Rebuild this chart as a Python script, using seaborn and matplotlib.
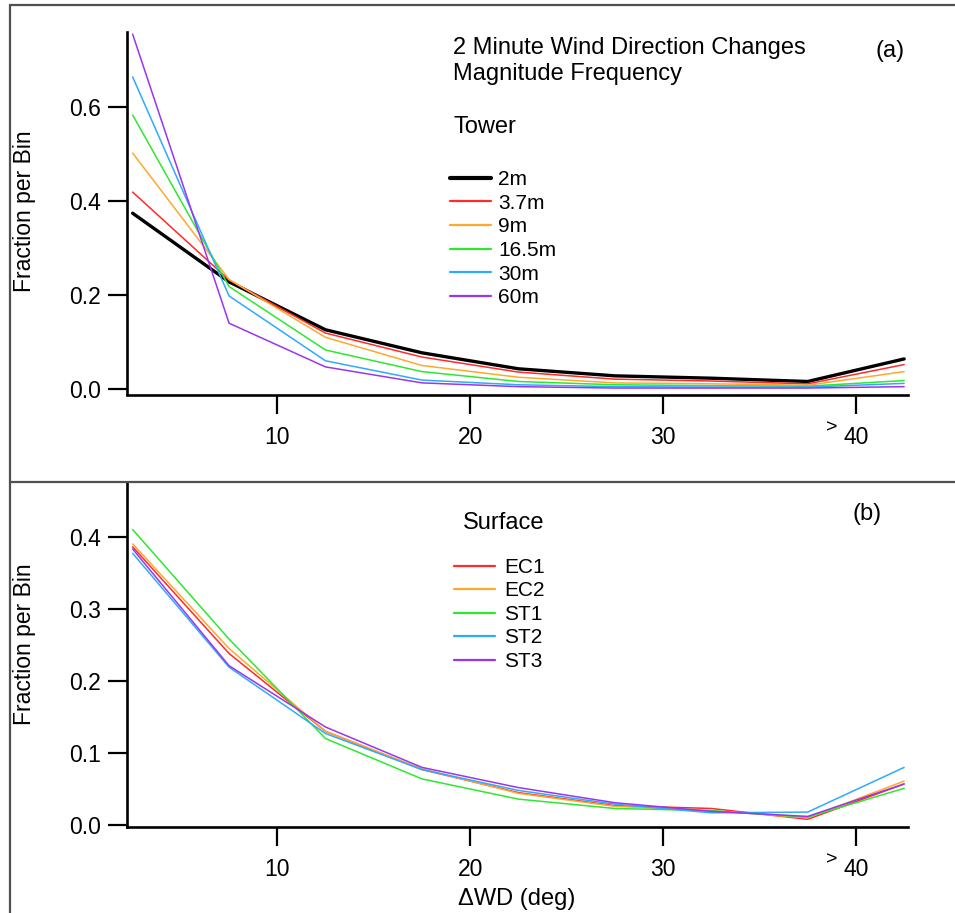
import numpy as np
import pandas as pd
import matplotlib
matplotlib.use("Agg")
import matplotlib.pyplot as plt
import seaborn as sns
from matplotlib.lines import Line2D

# ---------------- data ----------------
x_deg = [2.5, 7.5, 12.5, 17.5, 22.5, 27.5, 32.5, 37.5, 42.5]

tower_labels = ["2m", "3.7m", "9m", "16.5m", "30m", "60m"]
tower_2m = [0.374, 0.228, 0.126, 0.077, 0.043, 0.028, 0.023, 0.016, 0.064]
tower_3_7m = [0.419, 0.232, 0.119, 0.068, 0.036, 0.021, 0.017, 0.011, 0.052]
tower_9m = [0.502, 0.233, 0.110, 0.050, 0.025, 0.013, 0.011, 0.008, 0.037]
tower_16_5m = [0.583, 0.218, 0.083, 0.037, 0.016, 0.009, 0.007, 0.006, 0.018]
tower_30m = [0.664, 0.198, 0.060, 0.019, 0.009, 0.005, 0.004, 0.004, 0.012]
tower_60m = [0.755, 0.140, 0.047, 0.013, 0.005, 0.002, 0.002, 0.002, 0.005]

surface_labels = ["EC1", "EC2", "ST1", "ST2", "ST3"]
surf_ec1 = [0.386, 0.238, 0.130, 0.077, 0.045, 0.027, 0.023, 0.008, 0.057]
surf_ec2 = [0.390, 0.245, 0.130, 0.078, 0.044, 0.026, 0.020, 0.010, 0.061]
surf_st1 = [0.410, 0.258, 0.120, 0.064, 0.036, 0.023, 0.020, 0.011, 0.051]
surf_st2 = [0.377, 0.219, 0.127, 0.077, 0.048, 0.029, 0.017, 0.018, 0.080]
surf_st3 = [0.383, 0.221, 0.136, 0.080, 0.052, 0.031, 0.019, 0.012, 0.057]

x_ticks = [10, 20, 30, 40]
y_ticks_top = [0.0, 0.2, 0.4, 0.6]
y_ticks_bot = [0.0, 0.1, 0.2, 0.3, 0.4]

tower_series = [tower_2m, tower_3_7m, tower_9m, tower_16_5m, tower_30m, tower_60m]
surface_series = [surf_ec1, surf_ec2, surf_st1, surf_st2, surf_st3]

df_tower = pd.DataFrame({
    "x": x_deg * len(tower_labels),
    "y": sum(tower_series, []),
    "Tower": sum([[lab] * len(x_deg) for lab in tower_labels], []),
})
df_surf = pd.DataFrame({
    "x": x_deg * len(surface_labels),
    "y": sum(surface_series, []),
    "Surface": sum([[lab] * len(x_deg) for lab in surface_labels], []),
})

RED, ORANGE, GREEN, BLUE, PURPLE = "#ff2a2a", "#ffa82e", "#2ee82e", "#2eaaff", "#9a35ee"
tower_pal = dict(zip(tower_labels, ["black", RED, ORANGE, GREEN, BLUE, PURPLE]))
tower_lw = dict(zip(tower_labels, [2.4, 1.1, 1.1, 1.1, 1.1, 1.1]))
surf_pal = dict(zip(surface_labels, [RED, ORANGE, GREEN, BLUE, PURPLE]))
surf_lw = dict(zip(surface_labels, [1.1] * 5))

# ---------------- style ----------------
sns.set_style("ticks")
plt.rcParams["font.family"] = ["Liberation Sans", "DejaVu Sans"]
plt.rcParams["text.color"] = "black"

W, H = 955, 913
fig = plt.figure(figsize=(W / 100, H / 100), dpi=100)


def fx(px):
    return px / W


def fy(py):
    return 1 - py / H


def rect(l, t, r, b):
    return [l / W, 1 - b / H, (r - l) / W, (b - t) / H]


ax1 = fig.add_axes(rect(127, 32, 908, 394.5))
ax2 = fig.add_axes(rect(127, 483, 908, 826.5))

sns.lineplot(data=df_tower, x="x", y="y", hue="Tower", hue_order=tower_labels,
             palette=tower_pal, size="Tower", size_order=tower_labels, sizes=tower_lw,
             estimator=None, legend=False, ax=ax1)
sns.lineplot(data=df_surf, x="x", y="y", hue="Surface", hue_order=surface_labels,
             palette=surf_pal, size="Surface", size_order=surface_labels, sizes=surf_lw,
             estimator=None, legend=False, ax=ax2)

for ax, yt, ylim in [(ax1, y_ticks_top, (-0.0117, 0.7596)),
                     (ax2, y_ticks_bot, (-0.002, 0.4745))]:
    ax.set_xlim(2.208, 42.70)
    ax.set_ylim(*ylim)
    ax.set_xticks(x_ticks)
    ax.set_xticklabels([str(t) for t in x_ticks])
    ax.set_yticks(yt)
    ax.set_yticklabels([f"{v:.1f}" for v in yt])
    ax.set_xlabel("")
    ax.set_ylabel("")
    ax.spines["top"].set_visible(False)
    ax.spines["right"].set_visible(False)
    for s in ("left", "bottom"):
        ax.spines[s].set_linewidth(1.9)
        ax.spines[s].set_color("black")
    ax.tick_params(direction="out", length=13.5, width=1.6, labelsize=16.5,
                   colors="black")
    ax.tick_params(axis="x", pad=9.5)
    ax.tick_params(axis="y", pad=5)
    ax.patch.set_alpha(0)
    # ">" marker before the 40 label
    ax.annotate(">", xy=(38.76, 0), xycoords=("data", "axes fraction"),
                xytext=(0, -24.0), textcoords="offset points",
                ha="center", va="center", fontsize=14, color="black")

# legends
h1 = [Line2D([], [], color=tower_pal[l], lw=(3.0 if l == "2m" else 1.6)) for l in tower_labels]
ax1.legend(h1, tower_labels, loc="upper left", bbox_to_anchor=(fx(450), fy(170)),
           bbox_transform=fig.transFigure, frameon=False, fontsize=15,
           handlelength=1.95, handletextpad=0.35, labelspacing=0.225,
           borderpad=0, borderaxespad=0)
h2 = [Line2D([], [], color=surf_pal[l], lw=1.6) for l in surface_labels]
ax2.legend(h2, surface_labels, loc="upper left", bbox_to_anchor=(fx(454), fy(558)),
           bbox_transform=fig.transFigure, frameon=False, fontsize=15,
           handlelength=1.95, handletextpad=0.45, labelspacing=0.215,
           borderpad=0, borderaxespad=0)

# texts
fig.text(fx(453), fy(54.3), "2 Minute Wind Direction Changes", fontsize=17, va="baseline")
fig.text(fx(453), fy(80), "Magnitude Frequency", fontsize=17, va="baseline")
fig.text(fx(453), fy(133), "Tower", fontsize=17, va="baseline")
fig.text(fx(905), fy(56.7), "(a)", fontsize=17, ha="right", va="baseline")
fig.text(fx(462.7), fy(529.3), "Surface", fontsize=17, va="baseline")
fig.text(fx(882), fy(520), "(b)", fontsize=17, ha="right", va="baseline")
fig.text(fx(24), fy(211), "Fraction per Bin", rotation=90, fontsize=16.5,
         ha="center", va="center")
fig.text(fx(24), fy(644), "Fraction per Bin", rotation=90, fontsize=16.5,
         ha="center", va="center")
fig.text(fx(517), fy(899), "ΔWD (deg)", ha="center", va="center", fontsize=17)

# panel frame lines
fc = "#505050"
fig.add_artist(Line2D([fx(9.5), 1], [fy(5), fy(5)], transform=fig.transFigure, color=fc, lw=1.6))
fig.add_artist(Line2D([fx(9.5), fx(9.5)], [fy(5), 0], transform=fig.transFigure, color=fc, lw=1.6))
fig.add_artist(Line2D([fx(9.5), 1], [fy(482), fy(482)], transform=fig.transFigure, color=fc, lw=1.6))

fig.savefig("out.png", dpi=100)
